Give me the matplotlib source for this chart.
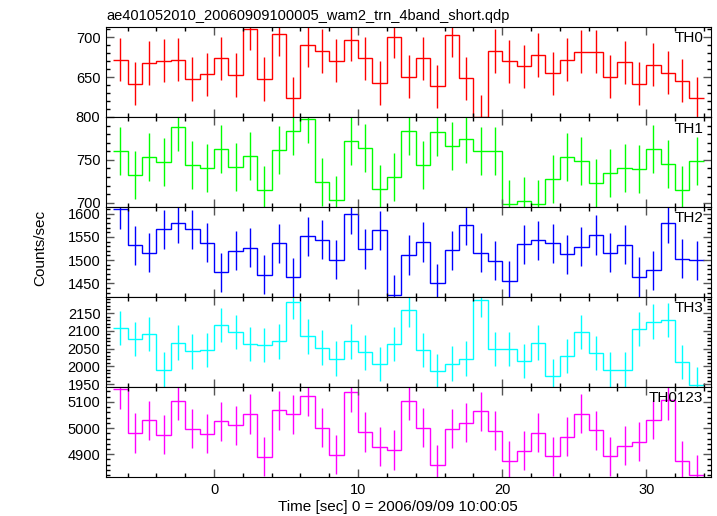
import matplotlib
matplotlib.use("Agg")
import matplotlib.pyplot as plt
import numpy as np
from matplotlib.ticker import FixedLocator, MultipleLocator

plt.rcParams["font.family"] = ["Liberation Sans", "DejaVu Sans"]

# time bins: 1 s wide, starting at -7 s
bin_start = -7.0
bin_width = 1.0

th0 = [672, 642, 668, 671, 672, 648, 654, 674, 653, 711, 648, 704, 624, 690, 683, 671, 697, 674, 643,
       701, 651, 674, 639, 703, 649, 601, 683, 670, 664, 678, 655, 672, 682, 682, 651, 669, 642, 666,
       656, 646, 624]
th1 = [760, 732, 753, 747, 788, 744, 740, 763, 742, 754, 715, 761, 784, 798, 724, 703, 772, 764, 716,
       730, 784, 744, 783, 766, 774, 760, 760, 699, 702, 698, 728, 753, 749, 723, 735, 740, 739, 763,
       745, 715, 749]
th2 = [1609, 1532, 1516, 1566, 1579, 1566, 1537, 1474, 1520, 1527, 1469, 1536, 1463, 1551, 1544, 1501,
       1598, 1524, 1564, 1426, 1511, 1539, 1450, 1521, 1575, 1516, 1499, 1456, 1534, 1543, 1536, 1513,
       1529, 1554, 1516, 1533, 1464, 1478, 1579, 1503, 1500]
th3 = [2109, 2077, 2092, 1991, 2067, 2042, 2047, 2117, 2097, 2064, 2059, 2070, 2180, 2084, 2053, 2022,
       2070, 2039, 2006, 2062, 2159, 2045, 1988, 2008, 2022, 2187, 2050, 2050, 2014, 2067, 1974, 2030,
       2097, 2038, 1991, 1991, 2106, 2126, 2130, 2013, 1949]
th0123 = [5148, 4981, 5029, 4975, 5104, 4998, 4979, 5026, 5011, 5054, 4891, 5068, 5052, 5123, 5002,
          4899, 5136, 4985, 4929, 4916, 5104, 5002, 4859, 4997, 5020, 5064, 4990, 4874, 4914, 4983,
          4892, 4967, 5055, 4992, 4892, 4933, 4948, 5032, 5106, 4876, 4822]

# typical 1-sigma error per band
errors = [27, 28, 42, 48, 75]

names = ["TH0", "TH1", "TH2", "TH3", "TH0123"]
colors = ["#ff0000", "#00ff00", "#0000ff", "#00ffff", "#ff00ff"]
ylims = [(600.5, 713), (695, 800), (1421, 1614), (1942, 2195), (4813, 5157)]
yticks = [[650, 700], [700, 750, 800], [1450, 1500, 1550, 1600],
          [1950, 2000, 2050, 2100, 2150], [4900, 5000, 5100]]
yminor = [10, 10, 10, 10, 20]

series = [th0, th1, th2, th3, th0123]

fig = plt.figure(figsize=(7.17, 5.16), dpi=100)
left, right = 106 / 717, 711 / 717
top, bottom = 1 - 27 / 516, 1 - 477 / 516
h = (top - bottom) / 5

for i, vals in enumerate(series):
    vals = np.array(vals, dtype=float)
    edges = bin_start + bin_width * np.arange(len(vals) + 1)
    centers = 0.5 * (edges[:-1] + edges[1:])

    ax = fig.add_axes([left, top - (i + 1) * h, right - left, h])
    ax.stairs(vals, edges, color=colors[i], linewidth=1.0, baseline=None)
    ax.errorbar(centers, vals, yerr=errors[i], fmt="none", ecolor=colors[i], elinewidth=1.0)

    ax.set_xlim(-7.5, 34.5)
    ax.set_ylim(*ylims[i])
    ax.xaxis.set_major_locator(MultipleLocator(10))
    ax.xaxis.set_minor_locator(MultipleLocator(2))
    ax.yaxis.set_major_locator(FixedLocator(yticks[i]))
    ax.yaxis.set_minor_locator(MultipleLocator(yminor[i]))
    ax.tick_params(which="both", direction="in", top=True, right=True, width=1, labelsize=10.5)
    ax.tick_params(which="major", length=6, color="#555555", pad=4)
    ax.tick_params(which="minor", length=3)
    if i < 4:
        ax.tick_params(labelbottom=False)

    ax.text(0.987, 0.95, names[i], transform=ax.transAxes, ha="right", va="top", fontsize=11)

    if i == 0:
        ax.set_title("ae401052010_20060909100005_wam2_trn_4band_short.qdp",
                     loc="left", fontsize=10.5, pad=5)
    if i == 4:
        ax.set_xlabel("Time [sec] 0 = 2006/09/09 10:00:05", fontsize=11)
        ax.xaxis.set_label_coords(0.482, -0.255)

fig.text(0.056, 0.52, "Counts/sec", rotation=90, ha="center", va="center", fontsize=11)

plt.savefig("out.png", dpi=100)
